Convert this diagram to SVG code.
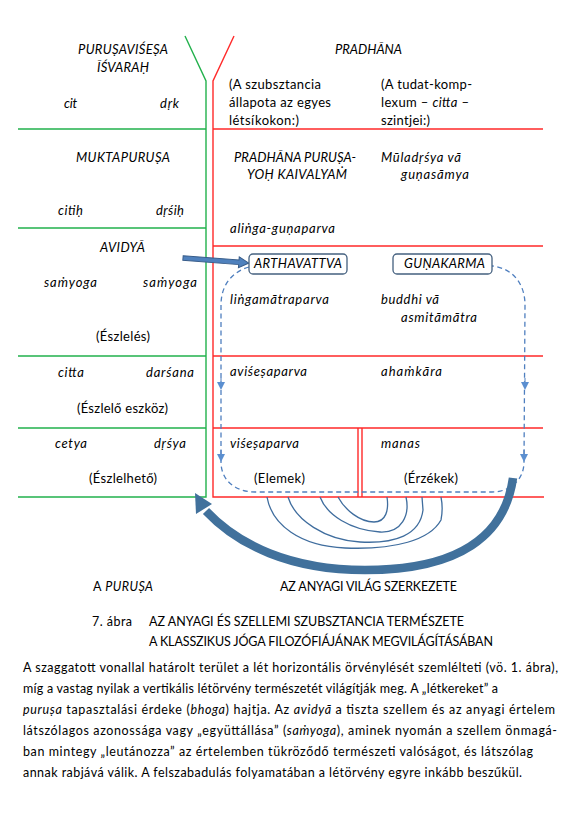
<svg xmlns="http://www.w3.org/2000/svg" width="580" height="821" viewBox="0 0 580 821">
<style>
text{font-family:Lato,"Noto Sans","DejaVu Sans",sans-serif;font-size:13px;fill:#000}
.i{font-style:italic}
.p{font-size:12.5px}
.c{font-size:12.5px}
.g{stroke:#22b14c;stroke-width:1.4;fill:none}
.r{stroke:#ff2a2a;stroke-width:1.4;fill:none}
.sp{stroke:#3f6d9e;stroke-width:1.3;fill:none}
.box{fill:#fff;stroke:#44607f;stroke-width:1.3}
.dm{stroke:#4f7fbf;stroke-width:1;fill:none;marker-end:url(#dh)}
</style>
<defs>
<marker id="dh" viewBox="0 0 8 8" refX="4" refY="4" markerWidth="8" markerHeight="8" orient="auto" markerUnits="userSpaceOnUse">
<path d="M0,0 L8,4 L0,8 z" fill="#5b8fd0"/>
</marker>
</defs>
<g id="grid">
<path class="g" d="M185,36 L206,81 L206,497 L18,497"/>
<path class="g" d="M18,129 H206 M18,228 H206 M18,356 H206 M18,428 H206"/>
<path class="r" d="M234,36 L213,81 L213,497 L544,497"/>
<path class="r" d="M213,129 H543 M213,246 H543 M213,356 H543 M213,428 H543"/>
<path class="r" d="M358,428 V497 M362,428 V497"/>
</g>
<g id="spiral">
<path class="sp" d="M338,497 C345,510 360,522 374,522 C386,522 389,510 387,497"/>
<path class="sp" d="M320,497 C327,515 350,530 380,532 C402,533 410,515 406,497"/>
<path class="sp" d="M288,497 C295,520 325,540 360,542 C395,544 420,535 423,510 L422,497"/>
<path class="sp" d="M267,497 C272,525 300,546 345,548 C395,550 430,540 441,520 C443,510 442,502 441,497"/>
</g>
<g id="connectors">
<path d="M249,267 C232,272 221,285 221,305 L221,462 C221,480 235,492 255,492 L492,492 C510,492 524,480 524,462 L525,305 C525,283 512,268 492,266" fill="none" stroke="#4f7fbf" stroke-width="1.3" stroke-dasharray="5,3.5"/>
<path class="dm" d="M221,378 L221,386"/>
<path class="dm" d="M221,450 L221,458"/>
<path class="dm" d="M525,378 L525,386"/>
<path class="dm" d="M524,450 L524,458"/>
<g id="avidya-arrow" transform="translate(183,258) rotate(4.4)">
<path d="M0,-2.3 L56,-2.3 L56,-5.5 L66,0 L56,5.5 L56,2.3 L0,2.3 z" fill="#4f81bd" stroke="#385d8a" stroke-width="1"/>
</g>
<g id="big-arrow">
<path d="M513,478 C505,535 460,570 365,570 C290,570 238,545 206,511" fill="none" stroke="#41719c" stroke-width="8.5"/>
<path d="M195,493 L212,504 L196,514 z" fill="#41719c"/>
</g>
</g>
<g id="node-arthavattva">
<rect class="box" x="249" y="254" width="98" height="20" rx="4"/>
<text class="i" x="254" y="268" textLength="88">ARTHAVATTVA</text>
</g>
<g id="node-gunakarma">
<rect class="box" x="393" y="254" width="99" height="20" rx="4"/>
<text class="i" x="404" y="268" textLength="81">GUṆAKARMA</text>
</g>
<g id="left-column">
<text class="i" x="78" y="54" textLength="90">PURUṢAVIŚEṢA</text>
<text class="i" x="97" y="72" textLength="52">ĪŚVARAḤ</text>
<text class="i" x="64" y="108" textLength="13">cit</text>
<text class="i" x="160" y="108" textLength="19">dṛk</text>
<text class="i" x="76" y="162" textLength="94">MUKTAPURUṢA</text>
<text class="i" x="58" y="215" textLength="25">citiḥ</text>
<text class="i" x="156" y="215" textLength="28">dṛśiḥ</text>
<text class="i" x="100" y="252" textLength="45">AVIDYĀ</text>
<text class="i" x="44" y="287" textLength="53">saṁyoga</text>
<text class="i" x="143" y="287" textLength="54">saṁyoga</text>
<text x="96" y="341" textLength="54">(Észlelés)</text>
<text class="i" x="58" y="377" textLength="26">citta</text>
<text class="i" x="146" y="377" textLength="48">darśana</text>
<text x="77" y="413" textLength="91">(Észlelő eszköz)</text>
<text class="i" x="55" y="448" textLength="32">cetya</text>
<text class="i" x="154" y="448" textLength="32">dṛśya</text>
<text x="89" y="483" textLength="68">(Észlelhető)</text>
</g>
<g id="right-column">
<text class="i" x="335" y="54" textLength="67">PRADHĀNA</text>
<text x="229" y="89" textLength="92">(A szubsztancia</text>
<text x="229" y="107" textLength="102">állapota az egyes</text>
<text x="229" y="125" textLength="70">létsíkokon:)</text>
<text x="381" y="89" textLength="91">(A tudat-komp-</text>
<text x="381" y="107" textLength="88">lexum – <tspan class="i">citta</tspan> –</text>
<text x="381" y="125" textLength="49">szintjei:)</text>
<text class="i" x="234" y="162" textLength="122">PRADHĀNA PURUṢA-</text>
<text class="i" x="247" y="179" textLength="100">YOḤ KAIVALYAṀ</text>
<text class="i" x="381" y="162" textLength="80">Mūladṛśya vā</text>
<text class="i" x="401" y="179" textLength="68">guṇasāmya</text>
<text class="i" x="230" y="233" textLength="105">aliṅga-guṇaparva</text>
<text class="i" x="230" y="304" textLength="99">liṅgamātraparva</text>
<text class="i" x="381" y="304" textLength="58">buddhi vā</text>
<text class="i" x="401" y="322" textLength="76">asmitāmātra</text>
<text class="i" x="230" y="376" textLength="77">aviśeṣaparva</text>
<text class="i" x="381" y="376" textLength="61">ahaṁkāra</text>
<text class="i" x="230" y="448" textLength="69">viśeṣaparva</text>
<text class="i" x="381" y="448" textLength="39">manas</text>
<text x="254" y="483" textLength="51">(Elemek)</text>
<text x="404" y="483" textLength="54">(Érzékek)</text>
</g>
<g id="labels">
<text class="c" x="93" y="591" textLength="60">A <tspan class="i">PURUṢA</tspan></text>
<text class="c" x="280" y="591" textLength="177">AZ ANYAGI VILÁG SZERKEZETE</text>
<text class="c" x="92" y="626" textLength="40">7. ábra</text>
<text class="c" x="149" y="626" textLength="315">AZ ANYAGI ÉS SZELLEMI SZUBSZTANCIA TERMÉSZETE</text>
<text class="c" x="149" y="646" textLength="344">A KLASSZIKUS JÓGA FILOZÓFIÁJÁNAK MEGVILÁGÍTÁSÁBAN</text>
</g>
<g id="paragraph">
<text class="p" x="23" y="672" textLength="535">A szaggatott vonallal határolt terület a lét horizontális örvénylését szemlélteti (vö. 1. ábra),</text>
<text class="p" x="23" y="693" textLength="475">míg a vastag nyilak a vertikális létörvény természetét világítják meg. A „létkereket” a</text>
<text class="p" x="23" y="714" textLength="532"><tspan class="i">puruṣa</tspan> tapasztalási érdeke (<tspan class="i">bhoga</tspan>) hajtja. Az <tspan class="i">avidyā</tspan> a tiszta szellem és az anyagi értelem</text>
<text class="p" x="23" y="735" textLength="534">látszólagos azonossága vagy „együttállása” (<tspan class="i">saṁyoga</tspan>), aminek nyomán a szellem önmagá-</text>
<text class="p" x="23" y="756" textLength="510">ban mintegy „leutánozza” az értelemben tükröződő természeti valóságot, és látszólag</text>
<text class="p" x="23" y="777" textLength="499">annak rabjává válik. A felszabadulás folyamatában a létörvény egyre inkább beszűkül.</text>
</g>
</svg>
